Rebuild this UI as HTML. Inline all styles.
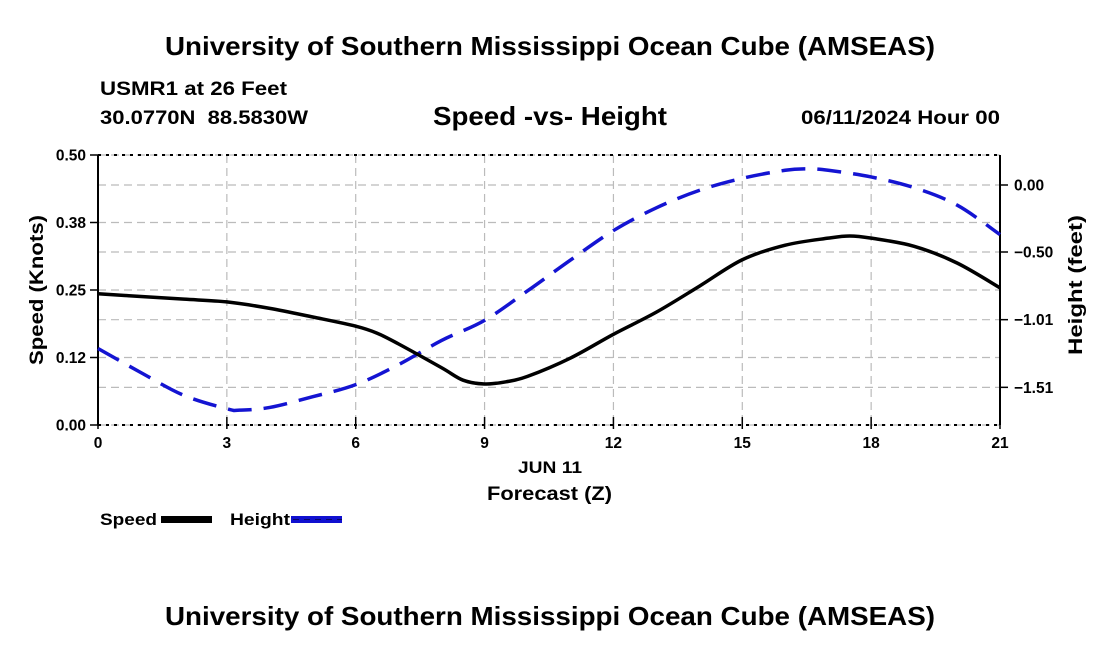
<!DOCTYPE html>
<html><head><meta charset="utf-8"><style>
body{margin:0;background:#fff;width:1100px;height:650px;overflow:hidden}
text{font-family:"Liberation Sans",sans-serif;font-weight:bold;fill:#000}
</style></head><body>
<svg id="chart" width="1100" height="650" xmlns="http://www.w3.org/2000/svg">
<text x="165" y="55" font-size="26" textLength="770" lengthAdjust="spacingAndGlyphs">University of Southern Mississippi Ocean Cube (AMSEAS)</text>
<text x="100" y="95" font-size="19" textLength="187" lengthAdjust="spacingAndGlyphs">USMR1 at 26 Feet</text>
<text x="100" y="124" font-size="19" textLength="208" lengthAdjust="spacingAndGlyphs" xml:space="preserve">30.0770N  88.5830W</text>
<text x="433" y="125" font-size="26" textLength="234" lengthAdjust="spacingAndGlyphs">Speed -vs- Height</text>
<text x="801" y="124" font-size="19" textLength="199" lengthAdjust="spacingAndGlyphs">06/11/2024 Hour 00</text>
<g id="grid"></g>
<g id="axes"></g>
<g id="series"></g>
<text x="518" y="473" font-size="17" textLength="64" lengthAdjust="spacingAndGlyphs">JUN 11</text>
<text x="487" y="500" font-size="19" textLength="125" lengthAdjust="spacingAndGlyphs">Forecast (Z)</text>
<text transform="translate(43,290) rotate(-90)" font-size="19" text-anchor="middle" textLength="150" lengthAdjust="spacingAndGlyphs">Speed (Knots)</text>
<text transform="translate(1082,285) rotate(-90)" font-size="19" text-anchor="middle" textLength="140" lengthAdjust="spacingAndGlyphs">Height (feet)</text>
<g><text x="100" y="525" font-size="17" textLength="57" lengthAdjust="spacingAndGlyphs">Speed</text><rect x="161" y="516" width="51" height="7" fill="#000"/></g>
<g><text x="230" y="525" font-size="17" textLength="60" lengthAdjust="spacingAndGlyphs">Height</text><rect x="291" y="516" width="51" height="7" fill="#1010d0"/><line x1="293" y1="519.5" x2="342" y2="519.5" stroke="#000" stroke-width="1" stroke-dasharray="6,5" opacity="0.5"/></g>
<text x="165" y="625" font-size="26" textLength="770" lengthAdjust="spacingAndGlyphs">University of Southern Mississippi Ocean Cube (AMSEAS)</text>
</svg>
<script>
const hours=[0,1,2,3,4,5,6,6.5,7,8,8.5,9,9.5,10,11,12,13,14,15,16,17,17.5,18,19,20,21];
const speed=[0.243,0.238,0.233,0.228,0.216,0.2,0.183,0.17,0.150,0.106,0.083,0.076,0.08,0.09,0.124,0.168,0.209,0.257,0.306,0.333,0.346,0.35,0.346,0.331,0.3,0.254];
const hHours=[0,1,2,3,3.3,4,5,6,7,8,9,10,11,12,13,14,15,16,16.5,17,18,19,20,21];
const height=[-1.22,-1.40,-1.57,-1.67,-1.68,-1.66,-1.58,-1.49,-1.34,-1.16,-1.01,-0.79,-0.56,-0.34,-0.17,-0.04,0.05,0.11,0.12,0.11,0.06,-0.02,-0.15,-0.37];
const xTicks=[0,3,6,9,12,15,18,21];
const speedTicks=[0,0.125,0.25,0.375,0.5];
const speedTickLabels=["0.00","0.12","0.25","0.38","0.50"];
const heightTicks=[0,-0.5,-1.005,-1.51];
const heightTickLabels=["0.00","\u22120.50","\u22121.01","\u22121.51"];
const L=98,R=1000,T=155,B=425;
const xs=h=>L+(h/21)*(R-L);
const ys=v=>B-(v/0.5)*(B-T);
const yh=h=>185-h*134;
const NS="http://www.w3.org/2000/svg";
function mk(tag,attrs,parent){const e=document.createElementNS(NS,tag);for(const k in attrs)e.setAttribute(k,attrs[k]);parent.appendChild(e);return e;}
const grid=document.getElementById('grid'),axes=document.getElementById('axes'),series=document.getElementById('series');
xTicks.forEach(t=>{if(t>0&&t<21){const l=mk('line',{x1:xs(t),x2:xs(t),y1:T,y2:B,stroke:'#bbb','stroke-width':1.2,'stroke-dasharray':'8,5'},grid);}
 const tx=mk('text',{x:xs(t),y:B+23,'font-size':15.5,'text-anchor':'middle'},axes);tx.textContent=t;
 mk('line',{x1:xs(t),x2:xs(t),y1:B-8,y2:B+4,stroke:'#000','stroke-width':1.5},axes);});
speedTicks.forEach((v,i)=>{const l=mk('line',{x1:L,x2:R,y1:ys(v),y2:ys(v),stroke:'#bbb','stroke-width':1.2,'stroke-dasharray':'8,5'},grid);
 mk('line',{x1:L-8,x2:L,y1:ys(v),y2:ys(v),stroke:'#000','stroke-width':1.5},axes);
 const tx=mk('text',{x:L-12,y:ys(v)+5.5,'font-size':15.5,'text-anchor':'end'},axes);tx.textContent=speedTickLabels[i];});
heightTicks.forEach((v,i)=>{const l=mk('line',{x1:L,x2:R,y1:yh(v),y2:yh(v),stroke:'#bbb','stroke-width':1.2,'stroke-dasharray':'8,5'},grid);
 mk('line',{x1:R,x2:R+8,y1:yh(v),y2:yh(v),stroke:'#000','stroke-width':1.5},axes);
 const tx=mk('text',{x:R+14,y:yh(v)+5.5,'font-size':15.5},axes);tx.textContent=heightTickLabels[i];});
mk('line',{x1:L,x2:L,y1:T,y2:B,stroke:'#000','stroke-width':2},axes);
mk('line',{x1:R,x2:R,y1:T,y2:B,stroke:'#000','stroke-width':2},axes);
mk('line',{x1:L,x2:R,y1:T,y2:T,stroke:'#000','stroke-width':2,'stroke-dasharray':'3,5'},axes);
mk('line',{x1:L,x2:R,y1:B,y2:B,stroke:'#000','stroke-width':2,'stroke-dasharray':'3,5'},axes);
function smooth(pts){let d='M'+pts[0][0]+','+pts[0][1];for(let i=0;i<pts.length-1;i++){const p0=pts[i-1]||pts[i],p1=pts[i],p2=pts[i+1],p3=pts[i+2]||p2;
 const c1=[p1[0]+(p2[0]-p0[0])/6,p1[1]+(p2[1]-p0[1])/6],c2=[p2[0]-(p3[0]-p1[0])/6,p2[1]-(p3[1]-p1[1])/6];d+=' C'+c1+' '+c2+' '+p2;}return d;}
const hp=mk('path',{d:smooth(hHours.map((h,i)=>[xs(h),yh(height[i])])),fill:'none',stroke:'#1414d2','stroke-width':3.5,'stroke-dasharray':'24,12'},series);

const sp=mk('path',{d:smooth(hours.map((h,i)=>[xs(h),ys(speed[i])])),fill:'none',stroke:'#000','stroke-width':3.5},series);

</script>
</body></html>
